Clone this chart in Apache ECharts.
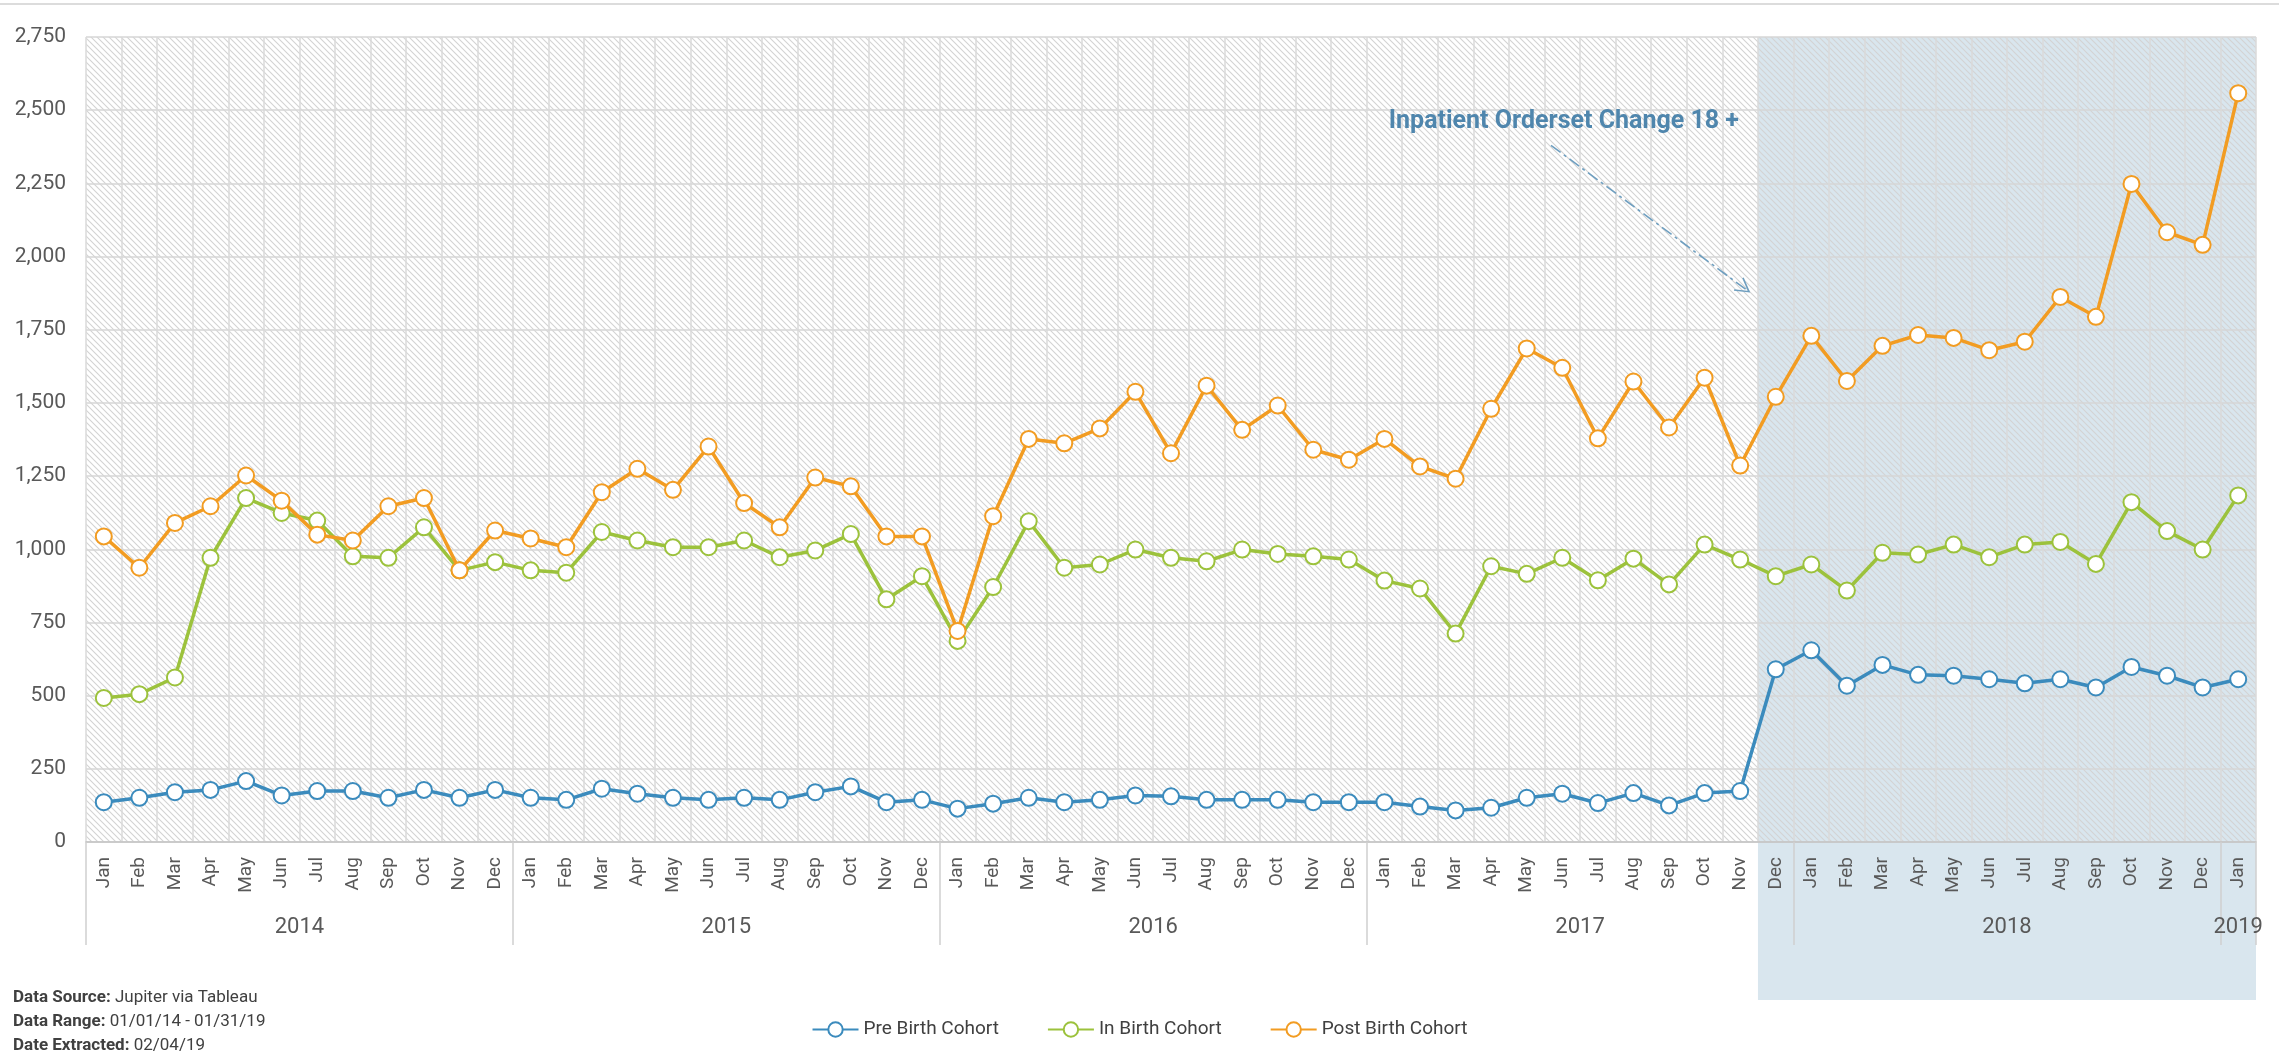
<!DOCTYPE html>
<html>
<head>
<meta charset="utf-8">
<title>Birth Cohorts</title>
<script src="https://cdn.jsdelivr.net/npm/echarts@6/dist/echarts.min.js"></script>
<style>
  html, body { margin: 0; padding: 0; background: #fff; }
  #main { width: 2279px; height: 1059px; }
</style>
</head>
<body>
<div id="main"></div>
<script>
var months = ['Jan', 'Feb', 'Mar', 'Apr', 'May', 'Jun', 'Jul', 'Aug', 'Sep', 'Oct', 'Nov', 'Dec'];
var years = ['2014', '2015', '2016', '2017', '2018', '2019'];
var monthsPerYear = [12, 12, 12, 12, 12, 1];

var seriesNames = ['Pre Birth Cohort', 'In Birth Cohort', 'Post Birth Cohort'];
var seriesColors = ['#3b8bbd', '#9cc23c', '#f29c22'];

var preBirth = [
  136, 151, 170, 178, 208, 159, 174, 174, 151, 178, 151, 178,
  151, 144, 182, 165, 151, 144, 151, 144, 170, 190, 136, 144,
  114, 131, 151, 136, 144, 159, 156, 144, 144, 144, 136, 136,
  136, 121, 108, 117, 151, 165, 133, 167, 125, 167, 174, 590,
  655, 534, 605, 571, 568, 556, 542, 556, 528, 598, 568, 528,
  556
];
var inBirth = [
  492, 505, 562, 971, 1175, 1124, 1098, 976, 971, 1075, 928, 956,
  928, 920, 1059, 1030, 1007, 1007, 1030, 973, 996, 1052, 829, 908,
  687, 871, 1096, 937, 948, 999, 971, 959, 999, 984, 976, 965,
  893, 866, 712, 942, 916, 971, 894, 968, 880, 1016, 965, 908,
  948, 859, 988, 982, 1016, 973, 1016, 1025, 950, 1161, 1062, 999,
  1184
];
var postBirth = [
  1044, 937, 1090, 1147, 1252, 1166, 1050, 1030, 1147, 1175, 928, 1064,
  1037, 1007, 1195, 1275, 1203, 1351, 1158, 1075, 1245, 1215, 1044, 1044,
  721, 1113, 1377, 1362, 1413, 1538, 1328, 1559, 1408, 1491, 1340, 1306,
  1377, 1283, 1241, 1480, 1686, 1620, 1379, 1573, 1416, 1586, 1286, 1521,
  1729, 1575, 1695, 1732, 1722, 1680, 1709, 1862, 1794, 2248, 2083, 2040,
  2558
];

var yMax = 2750;
var yStep = 250;
var changeMonth = 47; // Dec 2017, start of the shaded period
var noteText = 'Inpatient Orderset Change 18 +';
var sourceLines = [
  ['Data Source:', ' Jupiter via Tableau'],
  ['Data Range:', ' 01/01/14 - 01/31/19'],
  ['Date Extracted:', ' 02/04/19']
];

var fontName = 'Roboto, sans-serif';

// month categories (year prefix keeps them unique)
var categories = [];
for (var i = 0; i < years.length; i++) {
  for (var m = 0; m < monthsPerYear[i]; m++) {
    categories.push(years[i] + ' ' + months[m]);
  }
}

// year row: two slots per month, label at the middle of each year, divider at each edge
var yearSlots = [];
var dividers = {};
var pos = 0;
for (var i = 0; i < years.length; i++) {
  dividers[pos] = true;
  for (var k = 0; k < monthsPerYear[i] * 2; k++) {
    yearSlots.push(k === monthsPerYear[i] ? years[i] : '');
  }
  pos += monthsPerYear[i] * 2;
}
yearSlots.push('');
dividers[pos] = true;

// hatched plot background
function makeHatch(color) {
  var c = document.createElement('canvas');
  c.width = 6;
  c.height = 6;
  var g = c.getContext('2d');
  g.strokeStyle = color;
  g.lineWidth = 1.1;
  g.beginPath();
  g.moveTo(-1, -1); g.lineTo(7, 7);
  g.moveTo(-1, 5); g.lineTo(1, 7);
  g.moveTo(5, -1); g.lineTo(7, 1);
  g.stroke();
  return c;
}

var seriesData = [preBirth, inBirth, postBirth];
var series = [];
for (var s = 0; s < seriesNames.length; s++) {
  series.push({
    name: seriesNames[s],
    type: 'line',
    data: seriesData[s],
    symbol: 'emptyCircle',
    symbolSize: 16,
    lineStyle: { width: 3.5, color: seriesColors[s] },
    itemStyle: { color: seriesColors[s], borderWidth: 3.5 },
    z: 3 + s
  });
}

var option = {
  backgroundColor: '#fff',
  animation: false,
  textStyle: { fontFamily: fontName },
  grid: {
    left: 86,
    right: 23,
    top: 37,
    bottom: 217,
    show: true,
    borderWidth: 0,
    backgroundColor: { image: makeHatch('#d3d3d3'), repeat: 'repeat' }
  },
  legend: {
    data: seriesNames,
    left: 'center',
    top: 1015,
    itemWidth: 46,
    itemHeight: 18,
    itemGap: 48,
    textStyle: { fontSize: 19, color: '#404040', fontFamily: fontName }
  },
  xAxis: [{
    type: 'category',
    data: categories,
    boundaryGap: true,
    axisLine: { lineStyle: { color: '#c4c4c4', width: 1.5 } },
    axisTick: { show: false },
    splitLine: { show: true, interval: 0, lineStyle: { color: '#dadada', width: 1.5 } },
    axisLabel: {
      interval: 0,
      rotate: 90,
      margin: 15,
      fontSize: 19,
      color: '#595959',
      fontFamily: fontName,
      formatter: function (v) { return v.split(' ')[1]; }
    }
  }, {
    type: 'category',
    data: yearSlots,
    boundaryGap: false,
    position: 'bottom',
    offset: 0,
    axisLine: { show: false },
    splitLine: { show: false },
    axisTick: {
      show: true,
      length: 103,
      interval: function (idx) { return !!dividers[idx]; },
      lineStyle: { color: '#d0d0d0', width: 1.5 }
    },
    axisLabel: {
      interval: 0,
      margin: 74,
      fontSize: 22,
      color: '#595959',
      fontFamily: fontName
    }
  }],
  yAxis: {
    type: 'value',
    min: 0,
    max: yMax,
    interval: yStep,
    axisLine: { show: false },
    axisTick: { show: false },
    splitLine: { lineStyle: { color: '#d6d6d6', width: 1.5 } },
    axisLabel: {
      margin: 20,
      fontSize: 21,
      color: '#595959',
      fontFamily: fontName,
      formatter: function (v) { return v.toLocaleString('en-US'); }
    }
  },
  series: series
};

var chart = echarts.init(document.getElementById('main'));
chart.setOption(option);

// shaded period and annotation, placed from the axes
var x0px = chart.convertToPixel({ xAxisIndex: 0 }, categories[0]);
var x1px = chart.convertToPixel({ xAxisIndex: 0 }, categories[1]);
var bw = x1px - x0px;
var shadeLeft = chart.convertToPixel({ xAxisIndex: 0 }, categories[changeMonth]) - bw / 2;
var shadeRight = chart.convertToPixel({ xAxisIndex: 0 }, categories[categories.length - 1]) + bw / 2;
var plotTop = chart.convertToPixel({ yAxisIndex: 0 }, yMax);

var arrowEnd = [shadeLeft - 9, chart.convertToPixel({ yAxisIndex: 0 }, 1880)];
var arrowStart = [shadeLeft - 207, chart.convertToPixel({ yAxisIndex: 0 }, 2380)];
var dx = arrowEnd[0] - arrowStart[0];
var dy = arrowEnd[1] - arrowStart[1];
var len = Math.sqrt(dx * dx + dy * dy);
var ux = dx / len, uy = dy / len;
var headLen = 15, ang = Math.PI / 6;
function rot(x, y, a) { return [x * Math.cos(a) - y * Math.sin(a), x * Math.sin(a) + y * Math.cos(a)]; }
var h1 = rot(-ux * headLen, -uy * headLen, ang);
var h2 = rot(-ux * headLen, -uy * headLen, -ang);

var graphics = [{
  type: 'rect',
  z: -1,
  shape: { x: shadeLeft, y: plotTop, width: shadeRight - shadeLeft, height: 1000 - plotTop },
  style: { fill: '#d9e6ee' },
  silent: true
}, {
  type: 'line',
  z: 10,
  shape: { x1: 0, y1: 4, x2: 2279, y2: 4 },
  style: { stroke: '#dcdcdc', lineWidth: 2 },
  silent: true
}, {
  type: 'line',
  z: 10,
  shape: { x1: arrowStart[0], y1: arrowStart[1], x2: arrowEnd[0], y2: arrowEnd[1] },
  style: { stroke: '#6f9fc0', lineWidth: 1.6, lineDash: [12, 4, 3, 4] },
  silent: true
}, {
  type: 'polyline',
  z: 10,
  shape: { points: [
    [arrowEnd[0] + h1[0], arrowEnd[1] + h1[1]],
    arrowEnd,
    [arrowEnd[0] + h2[0], arrowEnd[1] + h2[1]]
  ] },
  style: { stroke: '#6f9fc0', lineWidth: 1.6, fill: null },
  silent: true
}, {
  type: 'text',
  z: 10,
  x: shadeLeft - 19,
  y: chart.convertToPixel({ yAxisIndex: 0 }, 2462),
  style: {
    text: noteText,
    fill: '#4f86ad',
    fontSize: 25,
    fontWeight: 'bold',
    fontFamily: fontName,
    align: 'right',
    verticalAlign: 'middle'
  },
  silent: true
}];

for (var j = 0; j < sourceLines.length; j++) {
  graphics.push({
    type: 'text',
    z: 10,
    left: 13,
    top: 989 + j * 24,
    style: {
      text: '{b|' + sourceLines[j][0] + '}' + sourceLines[j][1],
      fill: '#404040',
      fontSize: 17,
      fontFamily: fontName,
      rich: { b: { fontWeight: 'bold', fontSize: 17, fill: '#404040', fontFamily: fontName } }
    },
    silent: true
  });
}

chart.setOption({ graphic: graphics });
</script>
</body>
</html>
